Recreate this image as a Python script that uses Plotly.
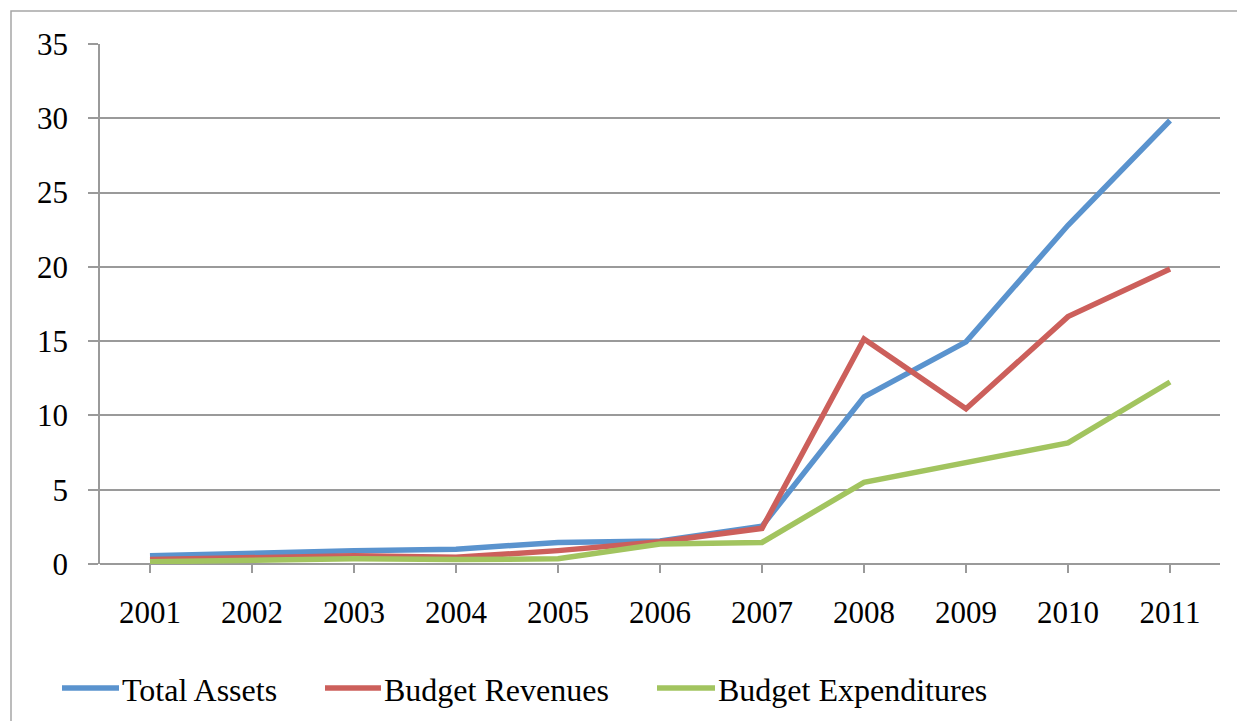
import plotly.graph_objects as go

years = ["2001", "2002", "2003", "2004", "2005", "2006", "2007", "2008", "2009", "2010", "2011"]
total_assets = [0.55, 0.75, 0.9, 1.0, 1.45, 1.55, 2.55, 11.25, 14.95, 22.8, 29.85]
budget_revenues = [0.3, 0.4, 0.55, 0.45, 0.9, 1.5, 2.4, 15.15, 10.45, 16.65, 19.85]
budget_expenditures = [0.15, 0.25, 0.35, 0.3, 0.35, 1.35, 1.45, 5.5, 6.8, 8.15, 12.25]

series_names = ["Total Assets", "Budget Revenues", "Budget Expenditures"]
series_values = [total_assets, budget_revenues, budget_expenditures]
series_colors = ["#5A93CE", "#CC5F5B", "#A2C45F"]

y_ticks = [0, 5, 10, 15, 20, 25, 30, 35]

W, H = 1237, 721
L, R, T, B = 100, 17, 44, 157
pw, ph = W - L - R, H - T - B
FONT = "Liberation Serif"
FS = 31
GRID = "#9A9A9A"


def px_x(px):
    return (px - L) / pw


def px_y(py):
    return (H - B - py) / ph


fig = go.Figure()
for name, vals, col in zip(series_names, series_values, series_colors):
    fig.add_trace(go.Scatter(
        x=years, y=vals, mode="lines", name=name,
        line=dict(color=col, width=5.5), showlegend=False,
    ))

# Outer chart frame
fig.add_shape(type="rect", xref="paper", yref="paper",
              x0=px_x(11), x1=px_x(1250), y0=px_y(11), y1=px_y(740),
              line=dict(color="#A6A6A6", width=1.5), layer="below")

# Legend drawn beneath the plot area
legend_items = [(62, 122), (325, 384), (657, 718)]
for (lx, tx), name, col in zip(legend_items, series_names, series_colors):
    fig.add_shape(type="line", xref="paper", yref="paper",
                  x0=px_x(lx), x1=px_x(tx - 3), y0=px_y(688), y1=px_y(688),
                  line=dict(color=col, width=5.5))
    fig.add_annotation(xref="paper", yref="paper", x=px_x(tx - 1), y=px_y(690),
                       text=name, showarrow=False, xanchor="left", yanchor="middle",
                       xshift=-1, font=dict(family=FONT, size=FS + 1, color="black"))

fig.update_layout(
    width=W, height=H,
    margin=dict(l=L, r=R, t=T, b=B),
    paper_bgcolor="white", plot_bgcolor="white",
    font=dict(family=FONT, size=FS, color="black"),
    xaxis=dict(
        type="category", range=[-0.49, 10.49],
        showgrid=False, showline=False, zeroline=False,
        ticks="outside", ticklen=8, tickwidth=1.5, tickcolor=GRID,
        ticklabelstandoff=13,
        tickfont=dict(family=FONT, size=FS, color="black"),
    ),
    yaxis=dict(
        range=[0, 35], tickvals=y_ticks,
        showgrid=True, gridcolor=GRID, gridwidth=1.5,
        showline=True, linecolor=GRID, linewidth=1.5,
        zeroline=True, zerolinecolor=GRID, zerolinewidth=1.5,
        ticks="outside", ticklen=10, tickwidth=1.5, tickcolor=GRID,
        ticklabelstandoff=14,
        tickfont=dict(family=FONT, size=FS, color="black"),
    ),
)

fig.write_html("out.html")
